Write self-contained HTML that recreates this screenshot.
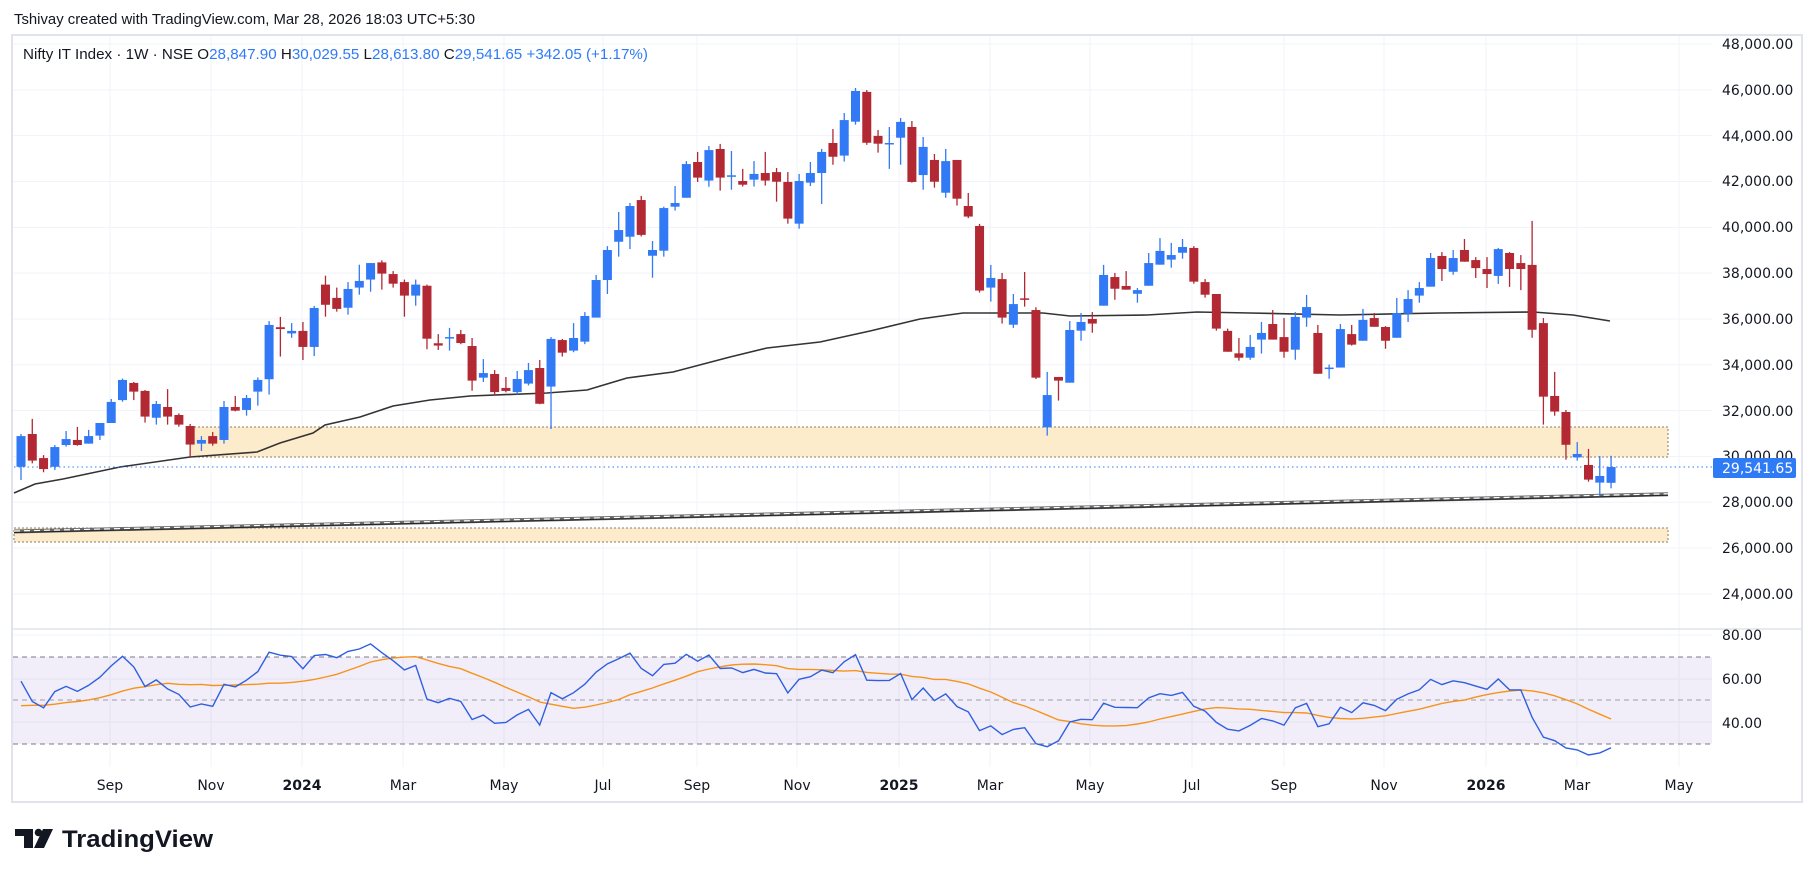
<!DOCTYPE html>
<html><head><meta charset="utf-8">
<style>
html,body{margin:0;padding:0;background:#fff;width:1815px;height:877px;overflow:hidden}
svg{display:block}
.ax{font-family:"DejaVu Sans",sans-serif;font-size:14px;fill:#131722}
</style></head>
<body>
<svg id="s" width="1815" height="877" viewBox="0 0 1815 877" xmlns="http://www.w3.org/2000/svg">
<rect width="1815" height="877" fill="#fff"/>
<g id="grid"></g>
<rect x="12" y="35" width="1790" height="767" fill="none" stroke="#e0e3eb" stroke-width="2"/>
<line x1="12" y1="629" x2="1802" y2="629" stroke="#e0e3eb" stroke-width="1.5"/>
<!-- RSI band -->
<rect x="13" y="657" width="1699" height="87" fill="#7e57c2" fill-opacity="0.1"/>
<line x1="13" y1="657" x2="1712" y2="657" stroke="#787b86" stroke-dasharray="5 4"/>
<line x1="13" y1="700" x2="1712" y2="700" stroke="#9a9ca6" stroke-dasharray="5 4"/>
<line x1="13" y1="744" x2="1712" y2="744" stroke="#787b86" stroke-dasharray="5 4"/>
<!-- zones -->
<rect x="190" y="427" width="1478" height="30" fill="#fdeccb" stroke="#8d7b63" stroke-dasharray="2 2"/>
<rect x="14" y="528" width="1654" height="14" fill="#fdeccb" stroke="#8d7b63" stroke-dasharray="2 2"/>
<!-- long line -->
<line x1="14" y1="531.5" x2="1668" y2="494.3" stroke="#6a6a6a" stroke-width="4"/>
<line x1="14" y1="532.5" x2="1668" y2="495.3" stroke="#222" stroke-width="1"/>
<line x1="14" y1="531" x2="1668" y2="493.8" stroke="#fff" stroke-width="1.2" stroke-dasharray="6 4"/>
<!-- MA -->
<polyline fill="none" stroke="#333" stroke-width="1.6" points="14,493 35,484 63,479 120,467 190,457 257,452 280,443 313,433 325,425 360,417 393,406 430,400 470,396 547,393 587,390 627,378 673,372 730,357 767,348 820,342 870,331 920,319 963,313 1043,313 1070,316 1147,315 1197,312 1250,313 1340,315 1440,313 1533,312 1573,315 1610,321"/>
<!-- price line -->
<line x1="14" y1="467" x2="1712" y2="467" stroke="#2f7bf5" stroke-dasharray="1.5 3"/>
<g id="candles"></g>
<g id="rsi"></g>
<!-- header -->
<text x="14" y="24" font-family="Liberation Sans, sans-serif" font-size="15" fill="#131722" textLength="461" lengthAdjust="spacingAndGlyphs">Tshivay created with TradingView.com, Mar 28, 2026 18:03 UTC+5:30</text>
<text x="23" y="59" font-family="Liberation Sans, sans-serif" font-size="15" fill="#131722" textLength="625" lengthAdjust="spacingAndGlyphs">Nifty IT Index · 1W · NSE  O<tspan fill="#2f7bf5">28,847.90</tspan>  H<tspan fill="#2f7bf5">30,029.55</tspan>  L<tspan fill="#2f7bf5">28,613.80</tspan>  C<tspan fill="#2f7bf5">29,541.65</tspan>  <tspan fill="#2f7bf5">+342.05 (+1.17%)</tspan></text>
<!-- price axis -->
<g class="ax">
<text x="1722" y="49">48,000.00</text>
<text x="1722" y="95">46,000.00</text>
<text x="1722" y="141">44,000.00</text>
<text x="1722" y="186">42,000.00</text>
<text x="1722" y="232">40,000.00</text>
<text x="1722" y="278">38,000.00</text>
<text x="1722" y="324">36,000.00</text>
<text x="1722" y="370">34,000.00</text>
<text x="1722" y="416">32,000.00</text>
<text x="1722" y="461">30,000.00</text>
<text x="1722" y="553">26,000.00</text>
<text x="1722" y="599">24,000.00</text>
<text x="1722" y="507">28,000.00</text>
<text x="1722" y="640">80.00</text>
<text x="1722" y="684">60.00</text>
<text x="1722" y="728">40.00</text>
</g>
<rect x="1713" y="458" width="83" height="20" rx="2" fill="#2f7bf5"/>
<text x="1722" y="473" font-family="DejaVu Sans, sans-serif" font-size="14" fill="#fff">29,541.65</text>
<!-- time axis -->
<g class="ax" text-anchor="middle">
<text x="110" y="790">Sep</text><text x="211" y="790">Nov</text><text x="302" y="790" font-weight="bold">2024</text>
<text x="403" y="790">Mar</text><text x="504" y="790">May</text><text x="603" y="790">Jul</text>
<text x="697" y="790">Sep</text><text x="797" y="790">Nov</text><text x="899" y="790" font-weight="bold">2025</text>
<text x="990" y="790">Mar</text><text x="1090" y="790">May</text><text x="1192" y="790">Jul</text>
<text x="1284" y="790">Sep</text><text x="1384" y="790">Nov</text><text x="1486" y="790" font-weight="bold">2026</text>
<text x="1577" y="790">Mar</text><text x="1679" y="790">May</text>
</g>
<!-- logo -->
<g fill="#131722">
<rect x="15" y="829" width="18" height="7"/>
<rect x="24" y="829" width="9" height="19"/>
<circle cx="38.5" cy="832.5" r="3.8"/>
<polygon points="43,829 53,829 44,848 34,848"/>
</g>
<text x="62" y="847" font-family="Liberation Sans, sans-serif" font-weight="bold" font-size="24" fill="#131722" textLength="151" lengthAdjust="spacingAndGlyphs">TradingView</text>
</svg>
<script>
var NS="http://www.w3.org/2000/svg";
function el(t,a,p){var e=document.createElementNS(NS,t);for(var k in a)e.setAttribute(k,a[k]);p.appendChild(e);return e;}
var grid=document.getElementById('grid');
[110,211,302,403,504,603,697,797,899,990,1090,1192,1284,1384,1486,1577,1679].forEach(function(x){el('line',{x1:x,y1:36,x2:x,y2:767,stroke:'#f0f3fa','stroke-width':1},grid);});
for(var i=0;i<=12;i++){var y=44+i*45.83;el('line',{x1:13,y1:y,x2:1712,y2:y,stroke:'#f0f3fa'},grid);}
[635,679,722].forEach(function(y){el('line',{x1:13,y1:y,x2:1712,y2:y,stroke:'#f0f3fa'},grid);});
var D=[[29.55,30.98,28.97,30.89],[30.98,31.64,29.70,29.82],[29.93,30.06,29.31,29.45],[29.55,30.50,29.41,30.41],[30.50,31.11,30.43,30.76],[30.72,31.29,30.47,30.50],[30.56,31.16,30.56,30.89],[30.91,31.46,30.72,31.46],[31.46,32.51,31.46,32.38],[32.46,33.40,32.39,33.34],
[33.21,33.25,32.46,32.83],[32.86,32.90,31.48,31.74],[31.69,32.42,31.39,32.29],[32.16,32.94,31.39,31.74],[31.81,31.88,31.30,31.39],[31.33,31.42,29.99,30.52],[30.56,30.89,30.24,30.72],[30.89,31.07,30.47,30.56],[30.72,32.42,30.56,32.16],[32.16,32.64,31.97,32.00],
[32.03,32.68,31.78,32.55],[32.83,33.45,32.22,33.34],[33.37,35.91,32.70,35.74],[35.64,36.09,34.36,35.56],[35.37,35.82,35.18,35.48],[35.48,35.87,34.21,34.78],[34.78,36.57,34.38,36.48],[37.50,37.89,36.10,36.62],[36.92,37.37,36.32,36.44],[36.49,37.61,36.19,37.31],
[37.37,38.37,37.06,37.66],[37.72,38.44,37.19,38.44],[38.47,38.56,37.28,37.98],[37.96,38.09,37.37,37.54],[37.61,37.72,36.10,37.02],[37.02,37.72,36.58,37.50],[37.45,37.50,34.68,35.14],[34.94,35.34,34.65,34.84],[35.18,35.61,34.62,35.21],[35.34,35.52,34.90,34.95],
[34.82,35.17,32.87,33.31],[33.44,34.25,33.25,33.64],[33.60,33.77,32.67,32.81],[32.99,33.47,32.80,32.86],[32.81,33.73,32.70,33.38],[33.18,34.08,33.10,33.77],[33.86,34.21,32.28,32.30],[33.05,35.21,31.20,35.13],[35.08,35.13,34.36,34.53],[34.62,35.82,34.55,35.17],
[35.01,36.30,34.90,36.13],[36.06,37.92,36.06,37.70],[37.70,39.18,37.09,39.01],[39.37,40.67,38.72,39.88],[39.59,41.06,39.05,40.93],[41.19,41.37,39.60,39.67],[38.76,39.40,37.80,39.01],[38.98,40.90,38.72,40.84],[40.90,41.80,40.73,41.06],[41.29,42.89,41.29,42.76],
[42.85,43.29,41.98,42.17],[42.04,43.55,41.77,43.37],[43.42,43.64,41.60,42.17],[42.24,43.33,41.64,42.27],[42.02,42.55,41.78,41.86],[42.08,42.89,41.78,42.33],[42.37,43.29,41.82,42.04],[42.41,42.59,41.12,41.99],[41.98,42.41,40.16,40.38],[40.16,42.33,39.94,42.02],
[41.95,42.85,41.80,42.37],[42.37,43.42,41.02,43.29],[43.68,44.29,42.73,43.08],[43.13,44.99,42.87,44.68],[44.61,46.08,44.48,45.95],[45.91,45.99,43.60,43.69],[43.99,44.25,43.26,43.65],[43.62,44.38,42.55,43.68],[43.91,44.77,42.73,44.60],[44.38,44.64,41.95,41.98],
[42.28,43.94,41.64,43.51],[42.94,43.20,41.73,41.99],[41.51,43.42,41.29,42.89],[42.94,42.94,40.95,41.25],[40.93,41.50,40.40,40.47],[40.06,40.15,37.15,37.24],[37.37,38.36,36.76,37.79],[37.74,38.01,35.80,36.06],[35.75,37.09,35.61,36.65],[36.90,38.05,36.54,36.84],
[36.39,36.51,33.38,33.44],[31.27,33.69,30.91,32.68],[33.47,33.47,32.44,33.31],[33.22,35.91,33.22,35.52],[35.49,36.26,35.05,35.87],[36.00,36.30,35.40,35.80],[36.58,38.36,36.58,37.92],[37.83,38.01,36.84,37.32],[37.44,38.09,37.28,37.28],[37.10,37.35,36.71,37.26],
[37.45,38.88,37.45,38.44],[38.37,39.53,38.37,38.97],[38.59,39.32,38.24,38.79],[38.89,39.49,38.63,39.14],[39.10,39.18,37.54,37.63],[37.61,37.74,36.93,37.06],[37.09,37.09,35.49,35.58],[35.48,35.58,34.57,34.57],[34.50,35.17,34.18,34.31],[34.31,35.30,34.22,34.78],
[35.10,35.87,34.49,35.39],[35.78,36.39,35.10,35.10],[35.21,36.04,34.31,34.57],[34.66,36.30,34.22,36.09],[36.06,37.05,35.66,36.52],[35.39,35.74,33.61,33.61],[33.83,34.01,33.39,33.88],[33.88,35.78,33.88,35.56],[35.34,35.74,34.84,34.88],[35.05,36.44,35.05,35.96],
[36.04,36.26,35.66,35.66],[35.65,35.69,34.70,35.05],[35.18,36.92,35.18,36.26],[36.23,37.26,35.87,36.87],[37.02,37.61,36.71,37.35],[37.41,38.88,37.41,38.66],[38.75,38.92,37.66,38.18],[38.06,39.01,37.93,38.66],[39.01,39.49,38.50,38.50],[38.57,38.70,37.79,38.22],
[38.18,38.70,37.35,37.96],[37.88,39.10,37.53,39.05],[38.88,38.92,37.40,38.18],[38.44,38.79,37.26,38.18],[38.36,40.28,35.18,35.53],[35.82,36.04,31.39,32.61],[32.64,33.69,31.78,31.96],[31.94,32.03,29.86,30.51],[29.96,30.63,29.82,30.11],[29.63,30.33,28.90,28.99],
[28.86,30.02,28.25,29.15],[28.85,30.03,28.61,29.54]];
function py(p){return 44+(48-p)*22.915;}
var cg=document.getElementById('candles');
D.forEach(function(d,i){
 var x=21+i*11.277,up=d[3]>=d[0],c=up?'#3179f5':'#b22833';
 el('line',{x1:x,y1:py(d[1]),x2:x,y2:py(d[2]),stroke:c,'stroke-width':1.3},cg);
 var t=py(Math.max(d[0],d[3])),b=py(Math.min(d[0],d[3]));
 el('rect',{x:x-4.5,y:t,width:9,height:Math.max(1.5,b-t),fill:c},cg);
});
// RSI
var ag=0.25,al=0.17,r=[59];
for(var i=1;i<D.length;i++){var ch=D[i][3]-D[i-1][3];ag=(ag*13+Math.max(ch,0))/14;al=(al*13+Math.max(-ch,0))/14;r.push(100-100/(1+ag/al));}
var ma=[];for(var i=0;i<r.length;i++){var s=0;for(var k=i-13;k<=i;k++)s+=(k<0?47:r[k]);ma.push(s/14);}
function ry(v){return 679-(v-60)*2.2;}
var rg=document.getElementById('rsi');
function pl(a,c){var pts=a.map(function(v,i){return (21+i*11.277).toFixed(1)+','+ry(v).toFixed(1);}).join(' ');el('polyline',{points:pts,fill:'none',stroke:c,'stroke-width':1.4},rg);}
pl(ma,'#f7931a');pl(r,'#2f5fe0');
</script>
</body></html>
